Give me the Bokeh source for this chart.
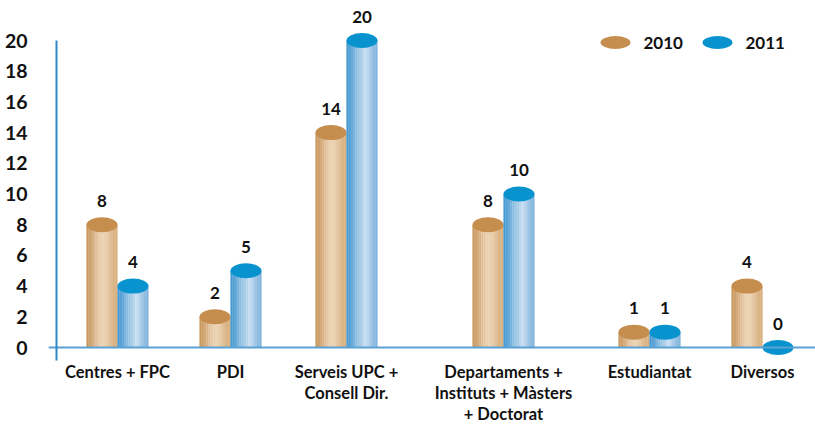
from bokeh.plotting import figure
from bokeh.models import Range1d, FixedTicker
from bokeh.embed import file_html
from bokeh.resources import INLINE
from bokeh.core.properties import value

# ---- data ----
categories = ["Centres + FPC", "PDI", "Serveis UPC +\nConsell Dir.",
              "Departaments +\nInstituts + Màsters\n+ Doctorat", "Estudiantat", "Diversos"]
values_2010 = [8, 2, 14, 8, 1, 4]
values_2011 = [4, 5, 20, 10, 1, 0]
series_names = ["2010", "2011"]
y_ticks = [0, 2, 4, 6, 8, 10, 12, 14, 16, 18, 20]

# ---- layout (x in px-like units from frame left) ----
cat_x = [69, 182, 298, 455, 601, 714]
bar_w = 31
px_per_unit = 15.35
fig_w, fig_h = 815, 425
zero_screen = 347
FONT = "Lato"

p = figure(width=fig_w, height=fig_h, output_backend="svg", toolbar_location=None,
           x_range=Range1d(0, fig_w - 48),
           y_range=Range1d(-(fig_h - zero_screen) / px_per_unit, zero_screen / px_per_unit),
           x_axis_location=None,
           min_border_left=48, min_border_right=0, min_border_top=0, min_border_bottom=0)
p.outline_line_color = None
p.grid.grid_line_color = None
p.background_fill_color = "white"

# y axis
ya = p.yaxis[0]
ya.ticker = FixedTicker(ticks=y_ticks)
ya.axis_line_color = None
ya.major_tick_line_color = None
ya.minor_tick_line_color = None
ya.major_label_standoff = 15
ya.major_label_text_font = FONT
ya.major_label_text_font_style = "bold"
ya.major_label_text_font_size = "19.5px"
ya.major_label_text_color = "#111111"

# category labels under the baseline
p.text(x=cat_x, y=[-14 / px_per_unit] * len(cat_x), text=categories,
       text_align="center", text_baseline="top", text_line_height=1.06,
       text_font=value(FONT), text_font_style="bold", text_font_size="16.5px", text_color="#111111")


def hex2rgb(h):
    h = h.lstrip("#")
    return tuple(int(h[i:i + 2], 16) for i in (0, 2, 4))


def grad(stops, t):
    for (t0, c0), (t1, c1) in zip(stops, stops[1:]):
        if t0 <= t <= t1:
            f = (t - t0) / (t1 - t0) if t1 > t0 else 0
            a, b = hex2rgb(c0), hex2rgb(c1)
            return "#%02x%02x%02x" % tuple(int(round(a[i] + (b[i] - a[i]) * f)) for i in range(3))
    return stops[-1][1]


styles = {
    "2010": dict(stops=[(0, "#C69357"), (0.5, "#EDD6B8"), (1, "#D6AB78")], top="#C68E4E", off=-bar_w / 2),
    "2011": dict(stops=[(0, "#3F95CF"), (0.6, "#C8DEF1"), (1, "#7AAFDB")], top="#0893CE", off=bar_w / 2),
}

nstrip = 14
for name, vals in zip(series_names, [values_2010, values_2011]):
    st = styles[name]
    xs = [cx + st["off"] for cx in cat_x]
    sw = bar_w / nstrip
    for k in range(nstrip):
        t = (k + 0.5) / nstrip
        col = grad(st["stops"], t)
        p.vbar(x=[x - bar_w / 2 + sw * (k + 0.5) for x in xs], width=sw * 1.08, bottom=0, top=vals,
               fill_color=col, line_color=None)
    p.ellipse(x=xs, y=vals, width=bar_w, height=15 / px_per_unit, fill_color=st["top"], line_color=None)
    p.text(x=xs, y=vals, text=[str(v) for v in vals], y_offset=-24,
           text_align="center", text_baseline="middle",
           text_font=value(FONT), text_font_style="bold", text_font_size="17px", text_color="#111111")

# axis lines
p.segment(x0=[0], y0=[0], x1=[fig_w - 48], y1=[0], line_color="#5AA2D4", line_width=2)
p.segment(x0=[8], y0=[-13 / px_per_unit], x1=[8], y1=[20], line_color="#2F88C8", line_width=2)

# legend
leg_x = [567, 669]
leg_y = (zero_screen - 42) / px_per_unit
for name, lx in zip(series_names, leg_x):
    p.ellipse(x=[lx], y=[leg_y], width=30, height=13 / px_per_unit,
              fill_color=styles[name]["top"], line_color=None)
    p.text(x=[lx + 28], y=[leg_y], text=[name], text_align="left", text_baseline="middle",
           text_font=value(FONT), text_font_style="bold", text_font_size="17px", text_color="#111111")

open("out.html", "w").write(file_html(p, INLINE))
